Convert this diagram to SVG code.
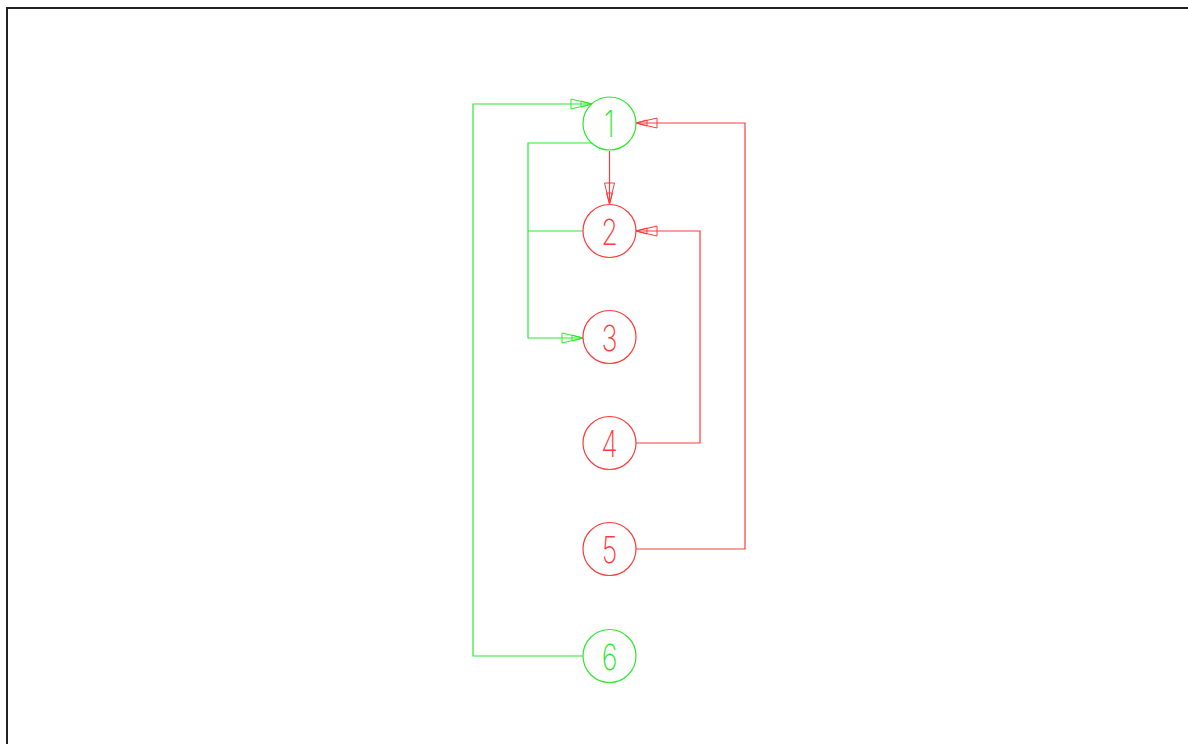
<svg xmlns="http://www.w3.org/2000/svg" xmlns:xlink="http://www.w3.org/1999/xlink" width="1188" height="744" viewBox="0 0 1188 744">
<style>
.g{stroke:#2ee82e;fill:none;stroke-width:1.2}
.r{stroke:#ff3b3b;fill:none;stroke-width:1.2}
.gt{fill:#2ee82e;font-family:Inter,"Liberation Sans",sans-serif;font-weight:200;font-size:36px;text-anchor:middle}
.rt{fill:#ff3b3b;font-family:Inter,"Liberation Sans",sans-serif;font-weight:200;font-size:36px;text-anchor:middle}
.ga{stroke:#2ee82e;fill:none;stroke-width:1}
.ga .f{fill:#2ee82e}
.ra{stroke:#ff3b3b;fill:none;stroke-width:1}
.ra .f{fill:#ff3b3b}
</style>
<defs>
<g id="arr">
<polygon points="-21,-5 0,0 -21,5"/>
<polygon class="f" points="-11,-3 0,0 -11,3"/>
</g>
</defs>
<rect width="1188" height="744" fill="#fff"/>
<path d="M7,744 V8 H1188" stroke="#222" stroke-width="2" fill="none"/>
<g id="connectors">
<path class="g" d="M583,656 H473 V104 H591"/>
<use href="#arr" class="ga" transform="translate(592,104)"/>
<path class="g" d="M591,143 H528 V338 H583"/>
<path class="g" d="M528,231 H583"/>
<use href="#arr" class="ga" transform="translate(583,338)"/>
<path class="r" d="M609.5,151 V204"/>
<use href="#arr" class="ra" transform="translate(609.5,204) rotate(90)"/>
<path class="r" d="M636,549 H745 V123 H636"/>
<use href="#arr" class="ra" transform="translate(636,123) rotate(180)"/>
<path class="r" d="M636,443 H700 V231 H636"/>
<use href="#arr" class="ra" transform="translate(636,231) rotate(180)"/>
</g>
<g id="node1"><circle class="g" cx="609.5" cy="123.5" r="26.5"/><text class="gt" transform="translate(609.5,137) scale(0.75,1)">1</text></g>
<g id="node2"><circle class="r" cx="609.5" cy="231" r="26.5"/><text class="rt" transform="translate(609.5,244.5) scale(0.75,1)">2</text></g>
<g id="node3"><circle class="r" cx="609.5" cy="337" r="26.5"/><text class="rt" transform="translate(609.5,350.5) scale(0.75,1)">3</text></g>
<g id="node4"><circle class="r" cx="609.5" cy="443" r="26.5"/><text class="rt" transform="translate(609.5,456.5) scale(0.75,1)">4</text></g>
<g id="node5"><circle class="r" cx="609.5" cy="549" r="26.5"/><text class="rt" transform="translate(609.5,562.5) scale(0.75,1)">5</text></g>
<g id="node6"><circle class="g" cx="609.5" cy="656" r="26.5"/><text class="gt" transform="translate(609.5,669.5) scale(0.75,1)">6</text></g>
</svg>
